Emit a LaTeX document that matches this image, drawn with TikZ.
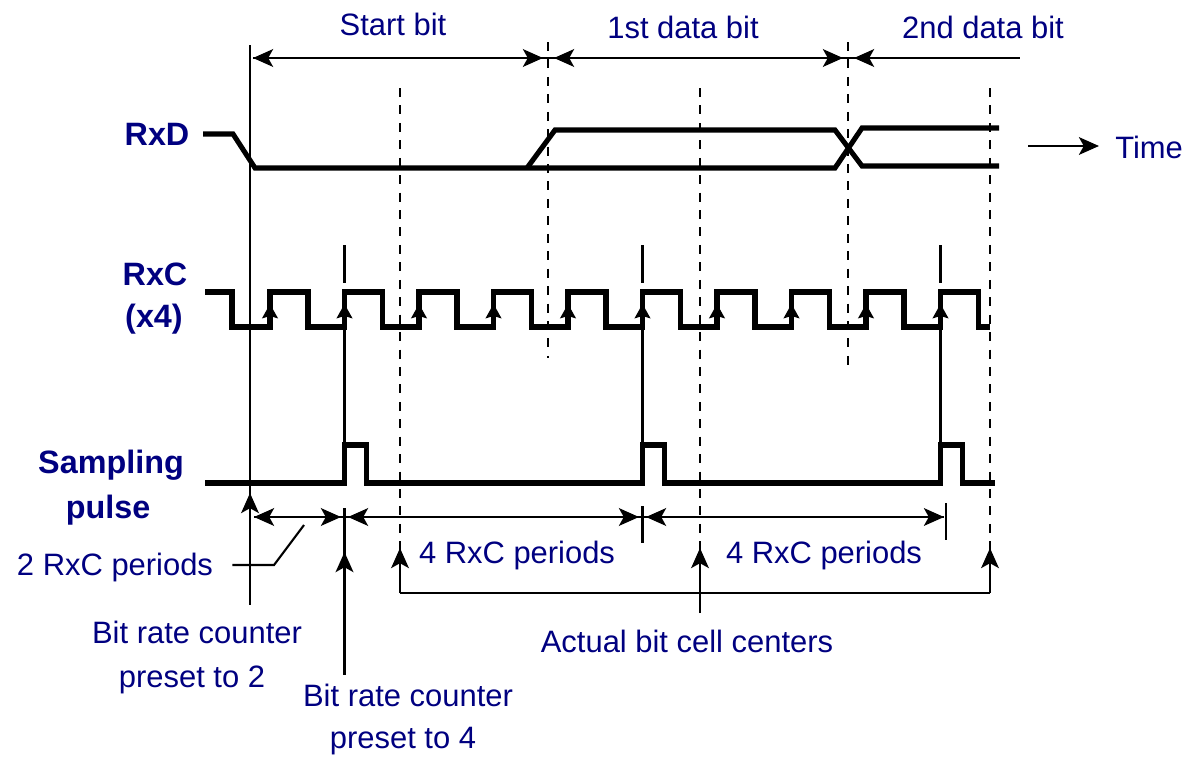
\documentclass[tikz,border=0pt]{standalone}
\usepackage{fontspec}
\setmainfont{Liberation Sans}
\usetikzlibrary{arrows.meta}
\definecolor{labelblue}{RGB}{0,0,128}

\begin{document}
\begin{tikzpicture}[x=0.025cm, y=-0.025cm,
    wave/.style={line width=3.6pt, line join=miter},
    thinline/.style={line width=2pt},
    guide/.style={line width=2pt, dash pattern=on 6.4pt off 6pt},
    dimarrow/.style={line width=2pt, {Stealth[length=0.5cm,width=0.44cm,inset=0.12cm]}-{Stealth[length=0.5cm,width=0.44cm,inset=0.12cm]}},
    leftarrow/.style={line width=2pt, {Stealth[length=0.5cm,width=0.44cm,inset=0.12cm]}-},
    uparrow/.style={line width=2pt, -{Stealth[length=0.5cm,width=0.44cm,inset=0.12cm]}},
    edgemark/.style={line width=1pt, -{Stealth[length=0.36cm,width=0.4cm,inset=0.06cm]}},
    signame/.style={font=\fontsize{23}{26}\selectfont\bfseries, text=labelblue, anchor=base, inner sep=0pt},
    lbl/.style={font=\fontsize{22}{26}\selectfont, text=labelblue, anchor=base, inner sep=0pt}]
    \useasboundingbox (0,0) rectangle (1183,757);

    % Signal names
    \node[signame] (rxd) at (157,145) {RxD};
    \node[signame] (rxc) at (155,285) {RxC};
    \node[signame] (rxcx) at (154,327) {(x4)};
    \node[signame] (samp) at (111,473) {Sampling};
    \node[signame] (pulse) at (108,518) {pulse};

    % Bit labels
    \node[lbl] (startbit) at (393,35) {Start bit};
    \node[lbl] (firstbit) at (683,38) {1st data bit};
    \node[lbl] (secondbit) at (983,38) {2nd data bit};
    \node[lbl, anchor=base west] (time) at (1115,158) {Time};

    % Bottom labels
    \node[lbl] (two) at (115,575) {2 RxC periods};
    \node[lbl] (fourA) at (517,563) {4 RxC periods};
    \node[lbl] (fourB) at (824,563) {4 RxC periods};
    \node[lbl] (centers) at (687,652) {Actual bit cell centers};
    \node[lbl] (preset2a) at (197,643) {Bit rate counter};
    \node[lbl] (preset2b) at (192,687) {preset to 2};
    \node[lbl] (preset4a) at (408,706) {Bit rate counter};
    \node[lbl] (preset4b) at (403,748) {preset to 4};

    % Reference points
    \coordinate (startL) at (253,58);
    \coordinate (startR) at (543,58);
    \coordinate (firstL) at (554,58);
    \coordinate (firstR) at (843,58);
    \coordinate (secondL) at (854,58);
    \coordinate (secondR) at (1020,58);
    \coordinate (twoL) at (254,517);
    \coordinate (twoR) at (341,517);
    \coordinate (fourAL) at (348,517);
    \coordinate (fourAR) at (639,517);
    \coordinate (fourBL) at (646,517);
    \coordinate (fourBR) at (944,517);
    \coordinate (timeL) at (1028,146);
    \coordinate (timeR) at (1099,146);
    \coordinate (brL) at (400,593);
    \coordinate (brR) at (990,593);
    \coordinate (brM) at (700,613);

    % Bit boundaries and cell centers
    \draw[thinline] (250,45) -- (250,605);
    \foreach \x/\top/\bot in {548/42/358, 848/42/372}
        \draw[guide] (\x,\top) -- (\x,\bot);
    \foreach \x in {400, 700, 990}
        \draw[guide] (\x,88) -- (\x,550);

    % RxD
    \draw[wave] (203,134) -- (233,134) -- (255,168) -- (835,168) -- (862,128) -- (999,128);
    \draw[wave] (527,168) -- (555,130) -- (835,130) -- (862,166) -- (999,166);

    % RxC (x4)
    \draw[wave] (205,292) -- (232,292) -- (232,327)
        \foreach \k in {0,...,9} {
            -- ({270+74.5*\k},327) -- ({270+74.5*\k},292)
            -- ({308+74.5*\k},292) -- ({308+74.5*\k},327)}
        -- (990,327);
    \foreach \k in {0,...,9}
        \draw[edgemark] ({270+74.5*\k},322) -- ({270+74.5*\k},304);

    % Sampling pulse
    \draw[wave] (205,483)
        \foreach \x in {344.5, 642.5, 940.5} {
            -- (\x,483) -- (\x,445) -- (\x+22,445) -- (\x+22,483)}
        -- (995,483);
    \foreach \x in {344.5, 642.5, 940.5} {
        \draw[thinline] (\x,245) -- (\x,283);
        \draw[thinline] (\x,330) -- (\x,445);
    }

    % Arrows
    \draw[thinline] (startL) -- (secondR);
    \draw[dimarrow] (startL) -- (startR);
    \draw[dimarrow] (firstL) -- (firstR);
    \draw[leftarrow] (secondL) -- (secondR);
    \draw[thinline] (twoL) -- (fourBR);
    \draw[dimarrow] (twoL) -- (twoR);
    \draw[dimarrow] (fourAL) -- (fourAR);
    \draw[dimarrow] (fourBL) -- (fourBR);
    \draw[thinline] (642.5,506) -- (642.5,543);
    \draw[thinline] (946,503) -- (946,540);
    \draw[uparrow] (timeL) -- (timeR);

    % Counter presets
    \draw[uparrow] (250,560) -- (250,493);
    \draw[thinline] (344.5,508) -- (344.5,675);
    \draw[uparrow] (344.5,600) -- (344.5,552);
    \draw[line width=1.5pt] (two.east |- 0,565) ++(19,0) -- (274,565) -- (304,525);

    % Annotation
    \draw[thinline] (brL) -- (brR);
    \draw[uparrow] (brL) -- (400,548);
    \draw[uparrow] (brR) -- (990,548);
    \draw[uparrow] (brM) -- (700,548);
\end{tikzpicture}
\end{document}
